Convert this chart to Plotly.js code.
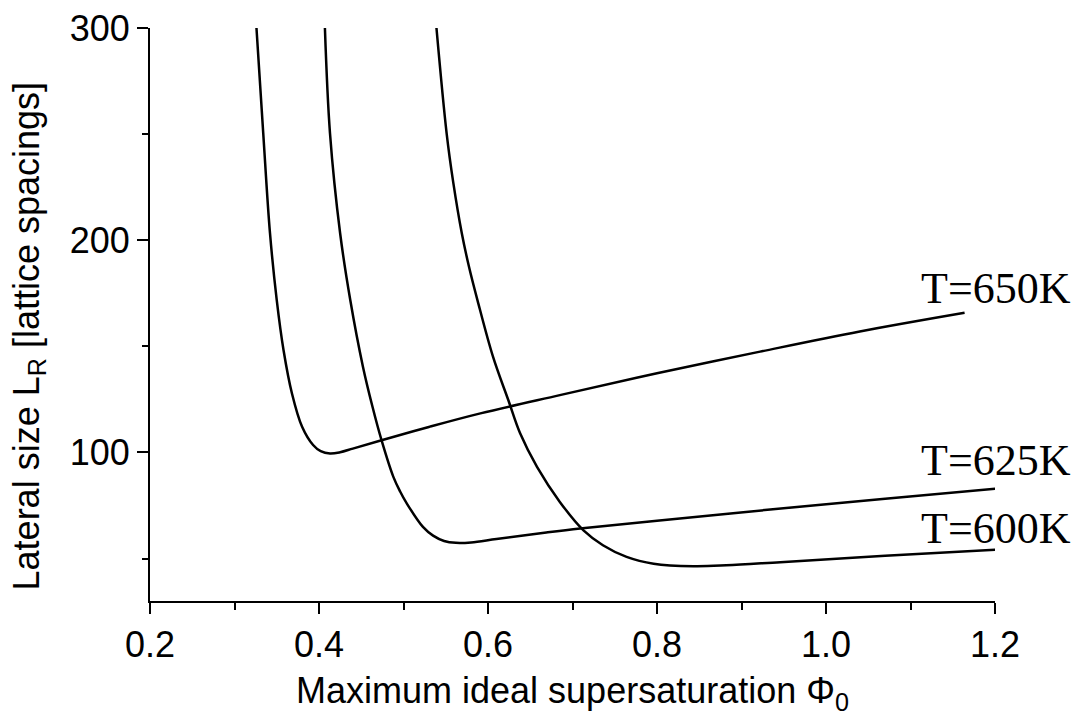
<!DOCTYPE html>
<html>
<head>
<meta charset="utf-8">
<script src="https://cdn.plot.ly/plotly-3.0.1.min.js"></script>
<style>
  html, body { margin: 0; padding: 0; background: #ffffff; }
  #chart { width: 1085px; height: 720px; }
</style>
</head>
<body>
<div id="chart"></div>
<script>
// Series
const seriesNames = ["T=650K", "T=625K", "T=600K"];

const x650 = [0.326, 0.334, 0.342, 0.350, 0.358, 0.368, 0.380, 0.393, 0.402, 0.413, 0.425, 0.440, 0.472, 0.530, 0.591, 0.685, 0.800, 0.922, 1.040, 1.164];
const y650 = [300, 250.5, 203.3, 171.8, 148.3, 127.8, 112.1, 103.5, 100.6, 99.5, 100.1, 101.8, 105.5, 112.0, 118.4, 127.0, 137.3, 147.5, 157.0, 165.8];

const x625 = [0.407, 0.413, 0.425, 0.437, 0.452, 0.463, 0.474, 0.488, 0.496, 0.504, 0.523, 0.535, 0.548, 0.562, 0.580, 0.610, 0.669, 0.709, 0.800, 0.934, 1.070, 1.202];
const y625 = [300, 250.5, 203.3, 171.8, 140.4, 122.0, 105.8, 88.5, 81.6, 75.9, 64.9, 60.8, 58.3, 57.4, 57.6, 59.2, 62.3, 64.2, 67.8, 73.1, 78.2, 83.0];

const x600 = [0.539, 0.551, 0.559, 0.569, 0.5775, 0.5875, 0.606, 0.624, 0.638, 0.658, 0.685, 0.713, 0.736, 0.764, 0.796, 0.843, 0.882, 0.946, 1.070, 1.202];
const y600 = [300, 250.5, 226.9, 203.3, 187.5, 171.8, 145.0, 124.7, 109.0, 93.2, 76.7, 63.3, 56.3, 50.8, 47.6, 46.4, 46.8, 48.3, 51.3, 54.2];

const xTitle = "Maximum ideal supersaturation Φ<sub>0</sub>";
const yTitle = "Lateral size L<sub>R</sub> [lattice spacings]";
const labelY = [0.546, 0.2455, 0.127];

const xs = [x650, x625, x600];
const ys = [y650, y625, y600];

const traces = xs.map((x, i) => ({
  x: x, y: ys[i], type: "scatter", mode: "lines", name: seriesNames[i],
  line: { color: "#000000", width: 2.5, shape: "spline", smoothing: 1.0 },
  hoverinfo: "skip"
}));

const sansFont = "Liberation Sans, Arial, sans-serif";

const layout = {
  width: 1085, height: 720,
  margin: { l: 150, r: 90, t: 28, b: 119, pad: 0 },
  paper_bgcolor: "#ffffff", plot_bgcolor: "#ffffff",
  showlegend: false,
  xaxis: {
    range: [0.2, 1.2], tick0: 0.2, dtick: 0.2, tickformat: ".1f",
    showgrid: false, zeroline: false, showline: true, linecolor: "#000", linewidth: 2,
    ticks: "outside", ticklen: 11, tickwidth: 2, tickcolor: "#000",
    minor: { ticks: "outside", ticklen: 7, tickwidth: 2, tickcolor: "#000", dtick: 0.1, showgrid: false },
    tickfont: { family: sansFont, size: 36, color: "#000" },
    title: { text: xTitle, font: { family: sansFont, size: 36, color: "#000" }, standoff: 14 },
    automargin: false, fixedrange: true
  },
  yaxis: {
    range: [30, 300], tick0: 0, dtick: 100,
    showgrid: false, zeroline: false, showline: true, linecolor: "#000", linewidth: 2,
    ticks: "outside", ticklen: 11, tickwidth: 2, tickcolor: "#000",
    minor: { ticks: "outside", ticklen: 6, tickwidth: 2, tickcolor: "#000", dtick: 50, showgrid: false },
    tickfont: { family: sansFont, size: 36, color: "#000" },
    automargin: false, fixedrange: true
  },
  annotations: seriesNames.map((t, i) => ({
    text: t, xref: "paper", yref: "paper", x: 1.092, y: labelY[i],
    xanchor: "right", yanchor: "middle", showarrow: false,
    font: { family: "Liberation Serif, Times New Roman, serif", size: 44, color: "#000" }
  })).concat([{
    text: yTitle, xref: "paper", yref: "paper", x: -0.143, y: 0.462,
    xanchor: "center", yanchor: "middle", textangle: -90, showarrow: false,
    font: { family: sansFont, size: 36, color: "#000" }
  }])
};

Plotly.newPlot("chart", traces, layout, { staticPlot: true, displayModeBar: false });
</script>
</body>
</html>
